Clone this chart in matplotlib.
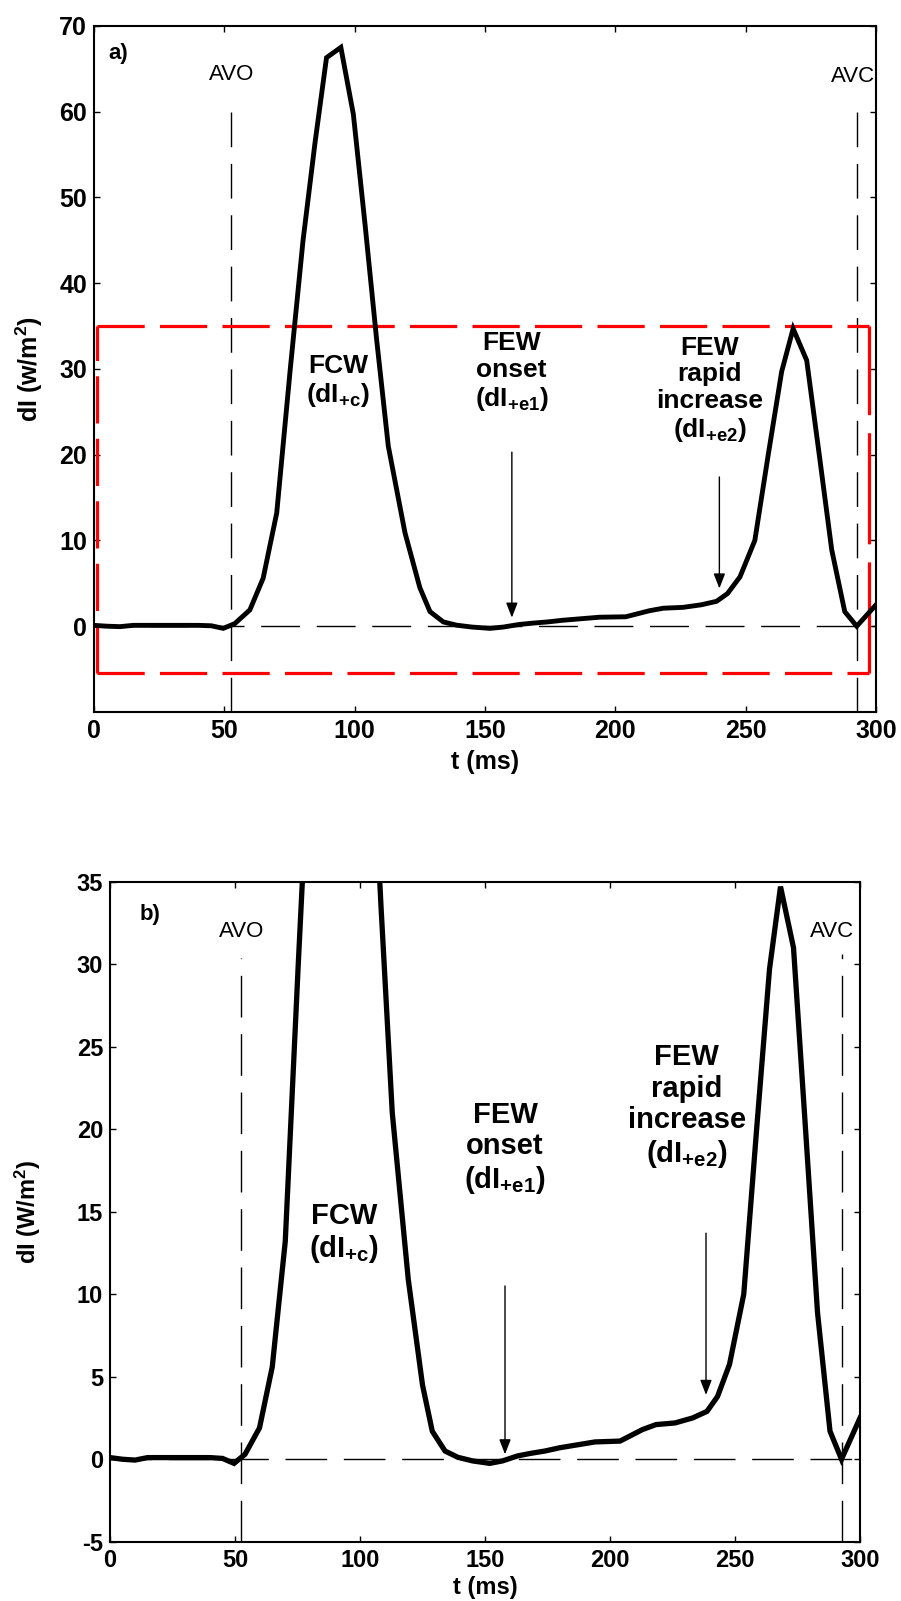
import matplotlib
matplotlib.use('Agg')
import matplotlib.pyplot as plt

plt.rcParams['font.family'] = ['Liberation Sans', 'DejaVu Sans']
plt.rcParams['mathtext.fontset'] = 'custom'
plt.rcParams['mathtext.bf'] = 'Liberation Sans:bold'
plt.rcParams['mathtext.rm'] = 'Liberation Sans:bold'
plt.rcParams['mathtext.default'] = 'bf'
plt.rcParams['lines.scale_dashes'] = False
plt.rcParams['axes.unicode_minus'] = False

# wave intensity trace (ms, W/m^2)
t_ms = [0, 5, 10, 15, 20, 30, 40, 45, 49.6, 54, 59.8, 64.9, 70.1, 75.3, 80.2,
        84.8, 89.2, 94.7, 99.5, 104, 108.4, 112.9, 119.3, 125, 128.9, 134,
        139.1, 145, 151.9, 157, 163, 168, 174, 180, 186, 194, 204, 213,
        218.4, 226, 233, 238.8, 243, 247.8, 253.5, 258.7, 263.8, 268.2,
        273.4, 278.3, 283, 288, 292.6, 300]
dI = [0.1, 0.0, -0.05, 0.1, 0.1, 0.1, 0.1, 0.05, -0.25, 0.3, 1.9, 5.6, 13.2,
      30, 45, 56.4, 66.3, 67.5, 59.7, 46.8, 33.5, 21.0, 10.9, 4.5, 1.7, 0.5,
      0.12, -0.1, -0.25, -0.1, 0.2, 0.35, 0.5, 0.7, 0.85, 1.05, 1.1, 1.8,
      2.1, 2.2, 2.5, 2.9, 3.8, 5.75, 10.0, 20.1, 29.7, 34.7, 31.0, 19.8,
      8.9, 1.7, 0.0, 2.5]

avo_t = 52.5
avc_t = 292.6

# red box marking the zoomed region in panel a
box_t = [1.0, 297.2]
box_dI = [-5.4, 35.0]

x_ticks = [0, 50, 100, 150, 200, 250, 300]
y_ticks_a = [0, 10, 20, 30, 40, 50, 60, 70]
y_ticks_b = [-5, 0, 5, 10, 15, 20, 25, 30, 35]

lbl_fcw = 'FCW\n(dI$_{+c}$)'
lbl_onset = 'FEW\nonset\n(dI$_{+e1}$)'
lbl_rapid = 'FEW\nrapid\nincrease\n(dI$_{+e2}$)'

fig = plt.figure(figsize=(9.01, 16.01), dpi=100)


def style_axes(ax, yticks, fs):
    ax.set_xlim(0, 300)
    ax.set_xticks(x_ticks)
    ax.set_yticks(yticks)
    ax.tick_params(direction='in', length=4, width=1, top=True, right=True,
                   labelsize=fs, pad=5)
    for lab in ax.get_xticklabels() + ax.get_yticklabels():
        lab.set_fontweight('bold')
    for s in ax.spines.values():
        s.set_linewidth(1.5)


def arrow(ax, x, y0, y1):
    ax.annotate('', xy=(x, y1), xytext=(x, y0),
                arrowprops=dict(arrowstyle='-|>,head_length=0.9,head_width=0.35',
                                color='black', lw=1, shrinkA=0, shrinkB=0))


# ---- panel a
ax1 = fig.add_axes([0.1043, 0.5553, 0.868, 0.4285])
ax1.set_ylim(-10, 70)
style_axes(ax1, y_ticks_a, 18)

ax1.plot([0, 300], [0, 0], color='black', lw=1, dashes=(28, 12), zorder=1)
ax1.plot([avo_t, avo_t], [-10, 61], color='black', lw=1, dashes=(25, 12), zorder=1)
ax1.plot([avc_t, avc_t], [-10, 61.6], color='black', lw=1, dashes=(25, 12), zorder=1)

# red dashed box
rc = dict(color='red', lw=2.3, zorder=2)
ax1.plot([box_t[0], box_t[1]], [box_dI[1], box_dI[1]], dashes=(34, 11), **rc)
ax1.plot([box_t[0], box_t[1]], [box_dI[0], box_dI[0]], dashes=(34, 11), **rc)
ax1.plot([box_t[0], box_t[0]], [box_dI[0], box_dI[1]], dashes=(34, 11), **rc)
ax1.plot([box_t[1], box_t[1]], [box_dI[0], box_dI[1]], dashes=(80, 13), **rc)

ax1.plot(t_ms, dI, color='black', lw=3.5, zorder=3, solid_joinstyle='miter')

ax1.text(9.2, 66.8, 'a)', fontsize=16, fontweight='bold', ha='center', va='center')
ax1.text(52.9, 64.3, 'AVO', fontsize=16, ha='center', va='center')
ax1.text(291, 64.1, 'AVC', fontsize=16, ha='center', va='center')

ax1.text(93.7, 31.8, lbl_fcw, fontsize=19, fontweight='bold', ha='center',
         va='top', linespacing=1.15)
ax1.text(160.2, 34.4, lbl_onset, fontsize=19, fontweight='bold', ha='center',
         va='top', linespacing=1.15)
ax1.text(236.3, 33.9, lbl_rapid, fontsize=19, fontweight='bold', ha='center',
         va='top', linespacing=1.15)
arrow(ax1, 160.3, 20.3, 1.0)
arrow(ax1, 239.9, 17.4, 4.4)

ax1.set_xlabel('t (ms)', fontsize=18, fontweight='bold')
ax1.set_ylabel('dI (w/m$^{2}$)', fontsize=18, fontweight='bold')
ax1.xaxis.set_label_coords(0.5, -0.056)
ax1.yaxis.set_label_coords(-0.063, 0.5)

# ---- panel b (zoom of the red box)
ax2 = fig.add_axes([0.1221, 0.0370, 0.8324, 0.4123])
ax2.set_ylim(-5, 35)
style_axes(ax2, y_ticks_b, 17)

ax2.plot([0, 297], [0, 0], color='black', lw=1, dashes=(30, 12), zorder=1)
ax2.plot([avo_t, avo_t], [-5, 30.4], color='black', lw=1, dashes=(30, 12), zorder=1)
ax2.plot([avc_t, avc_t], [-5, 30.6], color='black', lw=1, dashes=(30, 12), zorder=1)

ax2.plot(t_ms, dI, color='black', lw=3.8, zorder=3, solid_joinstyle='miter')

ax2.text(16, 33.0, 'b)', fontsize=16, fontweight='bold', ha='center', va='center')
ax2.text(52.7, 32.0, 'AVO', fontsize=16, ha='center', va='center')
ax2.text(289, 32.0, 'AVC', fontsize=16, ha='center', va='center')

ax2.text(93.7, 15.6, lbl_fcw, fontsize=21, fontweight='bold', ha='center',
         va='top', linespacing=1.15)
ax2.text(158, 21.7, lbl_onset, fontsize=21, fontweight='bold', ha='center',
         va='top', linespacing=1.15)
ax2.text(230.7, 25.2, lbl_rapid, fontsize=21, fontweight='bold', ha='center',
         va='top', linespacing=1.15)
arrow(ax2, 158, 10.5, 0.3)
arrow(ax2, 238.4, 13.7, 3.9)

ax2.set_xlabel('t (ms)', fontsize=17, fontweight='bold')
ax2.set_ylabel('dI (W/m$^{2}$)', fontsize=17, fontweight='bold')
ax2.xaxis.set_label_coords(0.5, -0.052)
ax2.yaxis.set_label_coords(-0.089, 0.5)

fig.savefig('out.png', dpi=100)
